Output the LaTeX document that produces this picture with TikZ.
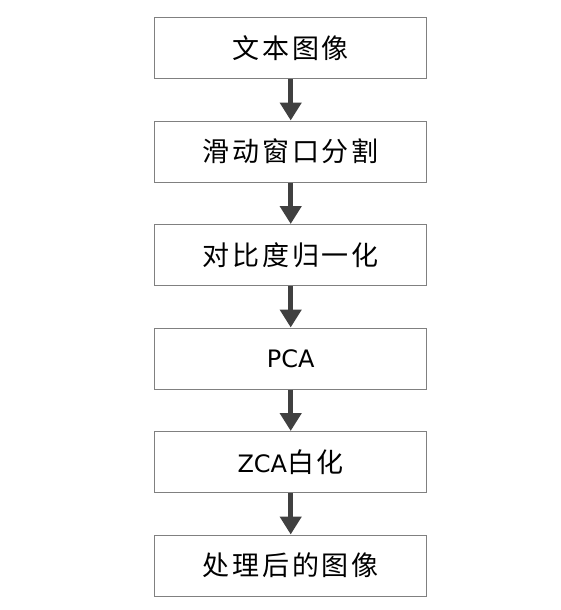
\documentclass[tikz,border=0pt]{standalone}
\usepackage{fontspec}
\setmainfont{DejaVu Sans}
\newfontfamily\cjkfont{Noto Sans CJK SC}[LetterSpace=10]
\newcommand{\cjk}{\cjkfont\fontsize{27pt}{30pt}\selectfont}
\usetikzlibrary{positioning,arrows.meta}
\definecolor{boxline}{RGB}{128,128,128}
\definecolor{arrowgray}{RGB}{64,64,64}
\tikzset{
    stepbox/.style={draw=boxline, line width=1pt, minimum width=272.5pt,
        minimum height=61pt, inner sep=0pt, font=\fontsize{24pt}{28pt}\selectfont},
    flow/.style={draw=arrowgray, line width=4.5pt,
        -{Triangle[width=21pt,length=18pt]}}
}
\begin{document}
\begin{tikzpicture}[node distance=41.5pt]
    \useasboundingbox (0pt,0pt) rectangle (560pt,-610pt);
    \node[stepbox, anchor=north] (a) at (290.7pt,-17pt) {\cjk 文本图像};
    \node[stepbox, below=of a] (b) {\cjk 滑动窗口分割};
    \node[stepbox, below=of b] (c) {\cjk 对比度归一化};
    \node[stepbox, below=of c] (d) {PCA};
    \node[stepbox, below=of d] (e) {ZCA{\cjk 白化}};
    \node[stepbox, below=of e] (f) {\cjk 处理后的图像};
    \draw[flow] (a) -- (b);
    \draw[flow] (b) -- (c);
    \draw[flow] (c) -- (d);
    \draw[flow] (d) -- (e);
    \draw[flow] (e) -- (f);
\end{tikzpicture}
\end{document}
